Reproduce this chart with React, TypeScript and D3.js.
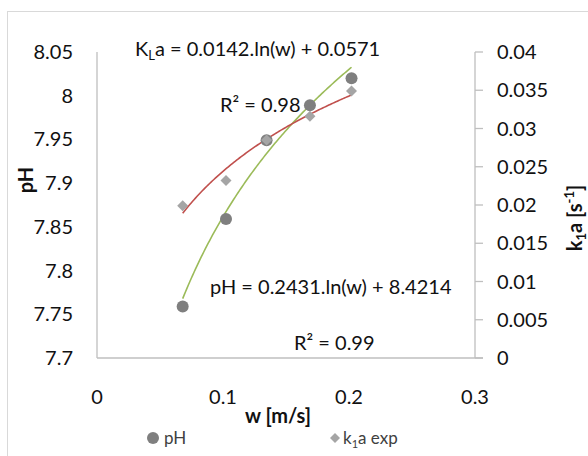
import React from 'react';
import * as d3 from 'd3';

const w = [0.068, 0.1024, 0.1346, 0.169, 0.202];
const pH = [7.759, 7.859, 7.949, 7.989, 8.02];
const kla = [0.0199, 0.0232, 0.0285, 0.0316, 0.0349];

// displayed trendline coefficients: y = a.ln(w) + b
const pHFit = [0.2431, 8.4214];
const klaFit = [0.0142, 0.0571];

const xTicks = [0, 0.1, 0.2, 0.3];
const leftTicks = [7.7, 7.75, 7.8, 7.85, 7.9, 7.95, 8, 8.05];
const rightTicks = [0, 0.005, 0.01, 0.015, 0.02, 0.025, 0.03, 0.035, 0.04];

const W = 588;
const H = 456;
const font = 'Lato, "Open Sans", sans-serif';

const App = () => {
  const x = d3.scaleLinear().domain([0, 0.3]).range([97, 475]);
  const yL = d3.scaleLinear().domain([7.7, 8.05]).range([358, 52]);
  const yR = d3.scaleLinear().domain([0, 0.04]).range([358, 52]);

  const ws = d3.range(120).map((i) => w[0] + ((w[w.length - 1] - w[0]) * i) / 119);
  const pHLine = d3
    .line<number>()
    .x((d) => x(d))
    .y((d) => yL(pHFit[0] * Math.log(d) + pHFit[1]));
  const kLine = d3
    .line<number>()
    .x((d) => x(d))
    .y((d) => yR(klaFit[0] * Math.log(d) + klaFit[1]));

  const diamond = (cx: number, cy: number, r: number) =>
    `M${cx},${cy - r}L${cx + r},${cy}L${cx},${cy + r}L${cx - r},${cy}Z`;

  return (
    <svg
      width={W}
      height={H}
      style={{ position: 'absolute', left: 0, top: 0, background: '#fff' }}
      fontFamily={font}
    >
      <rect x={7.5} y={11.5} width={W} height={H} fill="none" stroke="#d9d9d9" />

      {/* axes */}
      <line x1={97} x2={97} y1={52} y2={358} stroke="#bfbfbf" strokeWidth={1.3} />
      <line x1={97} x2={483} y1={358} y2={358} stroke="#bfbfbf" strokeWidth={1.3} />
      <line x1={475} x2={475} y1={52} y2={358} stroke="#bfbfbf" strokeWidth={1.3} />
      {rightTicks.map((t) => (
        <line key={t} x1={475} x2={483} y1={yR(t)} y2={yR(t)} stroke="#bfbfbf" strokeWidth={1.3} />
      ))}

      {/* tick labels */}
      {leftTicks.map((t) => (
        <text key={t} x={73} y={yL(t)} dy="0.35em" textAnchor="end" fontSize={20} fill="#111">
          {d3.format('~g')(t)}
        </text>
      ))}
      {rightTicks.map((t) => (
        <text key={t} x={497} y={yR(t)} dy="0.35em" fontSize={20} fill="#111">
          {d3.format('~g')(t)}
        </text>
      ))}
      {xTicks.map((t) => (
        <text key={t} x={x(t)} y={404} textAnchor="middle" fontSize={20} fill="#111">
          {d3.format('~g')(t)}
        </text>
      ))}

      {/* axis titles */}
      <text x={278} y={423} textAnchor="middle" fontSize={20} fontWeight="bold" fill="#111">
        w [m/s]
      </text>
      <text
        transform="translate(33,180) rotate(-90)"
        textAnchor="middle"
        fontSize={20}
        fontWeight="bold"
        fill="#111"
      >
        pH
      </text>
      <text
        transform="translate(582,218) rotate(-90)"
        textAnchor="middle"
        fontSize={20}
        fontWeight="bold"
        fill="#111"
      >
        k<tspan fontSize={13} dy={4}>1</tspan>
        <tspan dy={-4}>a [s</tspan>
        <tspan fontSize={13} dy={-8}>-1</tspan>
        <tspan dy={8}>]</tspan>
      </text>

      {/* trendlines */}
      <path d={pHLine(ws) ?? ''} fill="none" stroke="#9bbb59" strokeWidth={1.6} />
      <path d={kLine(ws) ?? ''} fill="none" stroke="#c0504d" strokeWidth={1.6} />

      {/* points */}
      {w.map((d, i) => (
        <circle key={'p' + i} cx={x(d)} cy={yL(pH[i])} r={6} fill="#7f7f7f" />
      ))}
      {w.map((d, i) => (
        <path key={'k' + i} d={diamond(x(d), yR(kla[i]), 5.5)} fill="#a5a5a5" />
      ))}

      {/* equations */}
      <text x={135} y={56} fontSize={20} fill="#111">
        K<tspan fontSize={13} dy={4}>L</tspan>
        <tspan dy={-4}>a = 0.0142.ln(w) + 0.0571</tspan>
      </text>
      <text x={220} y={112} fontSize={20} fill="#111">
        R² = 0.98
      </text>
      <text x={210} y={294} fontSize={20} fill="#111">
        pH = 0.2431.ln(w) + 8.4214
      </text>
      <text x={294} y={350} fontSize={20} fill="#111">
        R² = 0.99
      </text>

      {/* legend */}
      <circle cx={153} cy={438} r={6} fill="#7f7f7f" />
      <text x={164} y={444} fontSize={17} fill="#404040">
        pH
      </text>
      <path d={diamond(335, 438, 5)} fill="#a5a5a5" />
      <text x={343} y={444} fontSize={17} fill="#404040">
        k<tspan fontSize={11} dy={4}>1</tspan>
        <tspan dy={-4}>a exp</tspan>
      </text>
    </svg>
  );
};

export default App;
